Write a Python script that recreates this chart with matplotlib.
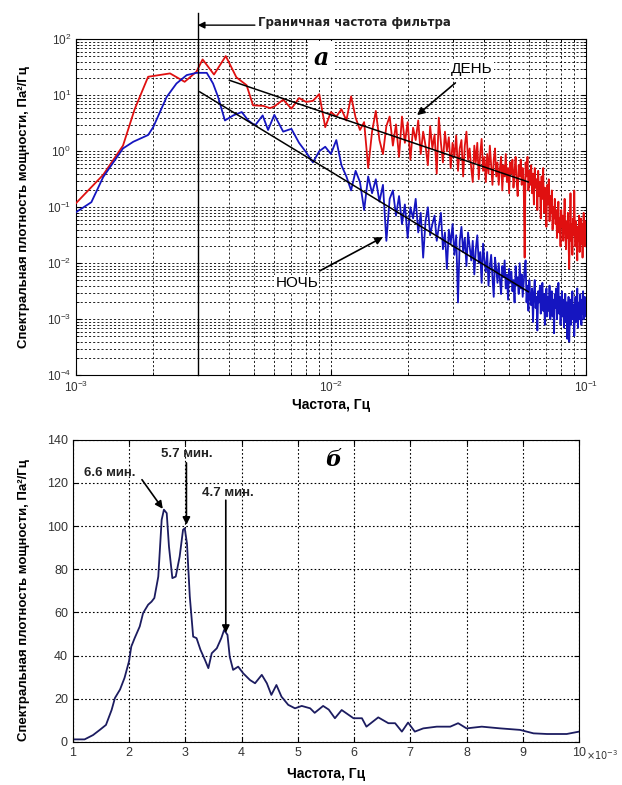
import matplotlib
matplotlib.use("Agg")
import matplotlib.pyplot as plt
import numpy as np

plt.rcParams["font.family"] = ["Liberation Sans", "DejaVu Sans"]

# ---- panel a: spectra (frequency in mHz, PSD as log10 of Pa^2/Hz) ----
F_LO_DAY = [1.0, 1.28, 1.53, 1.70, 1.92, 2.34, 2.67, 2.97, 3.14, 3.48, 3.87,
            4.26, 4.67, 4.95, 5.43, 5.77]
L_LO_DAY = [-0.93, -0.42, 0.10, 0.75, 1.33, 1.39, 1.24, 1.42, 1.64, 1.37, 1.70,
            1.32, 1.18, 0.82, 0.81, 0.77]
F_LO_NIGHT = [1.0, 1.15, 1.28, 1.53, 1.68, 1.92, 2.01, 2.27, 2.48, 2.72, 2.97,
              3.26, 3.45, 3.61, 3.84, 4.14, 4.47, 4.74, 5.04, 5.40, 5.67]
L_LO_NIGHT = [-1.09, -0.91, -0.46, 0.05, 0.17, 0.29, 0.43, 0.97, 1.21, 1.36, 1.40,
              1.40, 1.21, 0.97, 0.55, 0.64, 0.70, 0.55, 0.46, 0.64, 0.38]

# frequency bins 6.0 ... 100.0 mHz, step 0.5
F_HI = np.arange(6.0, 100.01, 0.5)
L_HI_DAY = [
    0.80, 0.92, 0.76, 0.95, 0.88, 0.90, 1.02, 0.43, 0.70, 0.62,
    0.75, 0.55, 0.98, 0.60, 0.38, 0.52, -0.30, 0.35, 0.72, 0.20,
    -0.05, 0.45, 0.62, 0.10, 0.48, -0.10, 0.62, 0.15, 0.52, -0.15,
    0.42, 0.20, 0.55, -0.05, 0.35, 0.10, -0.25, 0.45, 0.05, 0.30,
    -0.40, 0.60, 0.15, -0.20, 0.35, 0.00, 0.25, -0.30, 0.15, -0.10,
    0.28, -0.35, 0.05, 0.20, -0.45, 0.10, 0.35, -0.15, 0.05, -0.30,
    -0.55, 0.10, -0.20, 0.15, -0.50, -0.05, 0.22, -0.35, -0.10, -0.55,
    -0.05, -0.40, 0.10, -0.25, -0.60, -0.15, 0.05, -0.45, -0.20, -0.60,
    -0.30, -0.10, -0.70, -0.25, -0.45, -0.05, -0.55, -0.30, -0.75, -0.20,
    -0.40, -0.15, -0.65, -0.35, -0.10, -0.55, -0.80, -0.25, -0.45, -0.15,
    -0.60, -0.30, -0.55, -1.90, -0.20, -0.45, -0.10, -0.70, -0.35, -0.60,
    -0.25, -0.75, -0.40, -0.95, -0.30, -0.65, -0.50, -1.05, -0.35, -0.80,
    -0.55, -1.20, -0.45, -0.85, -0.30, -1.10, -0.65, -0.90, -1.35, -0.60,
    -0.95, -0.50, -1.25, -0.80, -1.10, -0.70, -1.40, -1.00, -1.20, -0.85,
    -1.30, -1.05, -1.55, -1.15, -0.90, -1.45, -1.20, -1.70, -1.05, -1.35,
    -1.15, -1.60, -1.30, -0.85, -1.45, -1.75, -1.25, -1.55, -1.10, -1.65,
    -2.10, -1.40, -0.75, -1.60, -1.30, -1.85, -1.20, -1.50, -0.70, -1.40,
    -1.70, -1.25, -1.55, -1.95, -1.35, -1.60, -1.15, -1.80, -1.45, -1.20,
    -1.65, -1.30, -1.90, -1.45, -1.10, -1.55, -1.35, -1.70, -1.25,
]
L_HI_NIGHT = [
    0.65, 0.35, 0.40, 0.15, -0.02, -0.20, 0.00, 0.08, -0.05, 0.20,
    -0.25, -0.45, -0.70, -0.35, -0.55, -1.05, -0.45, -0.75, -0.50, -0.90,
    -0.60, -1.60, -0.85, -0.70, -1.15, -0.80, -1.30, -0.95, -1.55, -1.00,
    -1.20, -0.85, -1.45, -1.10, -1.90, -1.25, -1.00, -1.50, -1.30, -1.15,
    -1.60, -1.35, -1.10, -1.75, -1.45, -2.10, -1.40, -1.65, -1.30, -1.85,
    -1.50, -2.70, -1.60, -1.35, -1.80, -1.55, -2.05, -1.45, -1.70, -1.95,
    -1.60, -2.20, -1.75, -1.50, -2.00, -1.80, -2.35, -1.65, -1.95, -2.15,
    -1.80, -2.40, -2.05, -1.85, -2.25, -2.60, -1.90, -2.10, -2.35, -2.00,
    -2.30, -2.55, -2.05, -2.25, -1.95, -2.45, -2.20, -2.65, -2.10, -2.35,
    -2.15, -2.50, -2.30, -2.70, -2.05, -2.40, -2.25, -2.55, -2.00, -2.45,
    -2.20, -2.60, -2.35, -2.10, -1.95, -2.70, -2.40, -2.85, -2.30, -2.60,
    -2.75, -2.45, -3.05, -2.55, -2.30, -2.80, -2.60, -3.20, -2.50, -2.70,
    -2.40, -2.90, -2.65, -2.35, -2.85, -2.55, -3.10, -2.70, -2.45, -2.95,
    -2.60, -2.85, -2.40, -3.00, -2.70, -2.50, -2.95, -2.65, -3.25, -2.55,
    -2.80, -2.45, -3.00, -2.70, -2.35, -2.90, -2.60, -3.10, -2.75, -2.50,
    -2.95, -2.65, -3.15, -2.80, -2.55, -3.05, -2.70, -3.35, -2.85, -2.60,
    -3.40, -2.90, -2.65, -3.10, -2.80, -2.50, -3.00, -2.75, -3.30, -2.85,
    -2.60, -3.05, -2.80, -2.45, -3.15, -2.90, -2.70, -3.00, -2.55, -2.85,
    -3.10, -2.65, -2.90, -2.50, -3.00, -2.75, -2.60, -2.95, -2.70,
]

# fitted power-law lines (end points)
FIT_DAY_F = [4.0, 59.4]
FIT_DAY_P = [18.5, 0.283]
FIT_NIGHT_F = [3.06, 59.4]
FIT_NIGHT_P = [11.5, 0.0031]
CUTOFF_F = 3.0

# ---- panel b: smoothed spectrum (frequency in units of 1e-3 Hz) ----
F_B = [1.0, 1.02, 1.21, 1.36, 1.48, 1.59, 1.69, 1.75, 1.84, 1.92, 2.0, 2.04,
       2.10, 2.19, 2.25, 2.34, 2.40, 2.45, 2.52, 2.58, 2.62, 2.67, 2.71, 2.77,
       2.83, 2.90, 2.96, 2.99, 3.03, 3.08, 3.14, 3.20, 3.27, 3.35, 3.41, 3.47,
       3.56, 3.64, 3.69, 3.75, 3.79, 3.85, 3.94, 4.03, 4.15, 4.24, 4.36, 4.45,
       4.53, 4.62, 4.71, 4.83, 4.95, 5.07, 5.22, 5.30, 5.45, 5.55, 5.66, 5.78,
       5.99, 6.14, 6.22, 6.43, 6.61, 6.73, 6.85, 6.96, 7.08, 7.23, 7.47, 7.71,
       7.85, 8.0, 8.27, 8.6, 8.95, 9.19, 9.43, 9.78, 10.0]
P_B = [1.0, 1.2, 1.2, 3.2, 5.6, 7.9, 14.8, 20.4, 24.3, 29.7, 37.4, 44.2,
       48.1, 53.5, 59.7, 63.6, 65.0, 66.7, 76.6, 102.9, 107.6, 106.0, 90.5, 75.9,
       76.6, 85.9, 98.3, 99.0, 92.0, 67.4, 48.8, 48.1, 42.7, 38.0, 34.2, 41.1,
       43.4, 48.1, 51.9, 49.6, 39.5, 33.4, 34.9, 31.8, 28.7, 27.2, 31.1, 27.2,
       21.8, 26.4, 21.0, 17.2, 15.6, 16.7, 15.6, 13.5, 16.7, 15.0, 11.0, 14.8,
       11.0, 11.0, 7.1, 11.4, 8.7, 8.7, 4.8, 9.0, 4.8, 6.3, 7.1, 7.1,
       8.7, 6.3, 7.1, 6.3, 5.6, 4.0, 3.7, 3.7, 4.8]

RED = "#e01010"
BLUE = "#1515c0"
NAVY = "#1c1c60"
LABEL = "Спектральная плотность мощности, Па²/Гц"

fig = plt.figure(figsize=(6.22, 7.85), dpi=100)

# ================= panel a =================
ax = fig.add_axes([0.122, 0.522, 0.820, 0.428])
f_day = np.concatenate([F_LO_DAY, F_HI]) * 1e-3
p_day = 10.0 ** np.concatenate([L_LO_DAY, L_HI_DAY])
f_night = np.concatenate([F_LO_NIGHT, F_HI]) * 1e-3
p_night = 10.0 ** np.concatenate([L_LO_NIGHT, L_HI_NIGHT])

ax.loglog(f_day, p_day, color=RED, lw=1.3, zorder=3)
ax.loglog(f_night, p_night, color=BLUE, lw=1.3, zorder=3)
ax.loglog(np.array(FIT_DAY_F) * 1e-3, FIT_DAY_P, color="black", lw=1.1, zorder=4)
ax.loglog(np.array(FIT_NIGHT_F) * 1e-3, FIT_NIGHT_P, color="black", lw=1.1, zorder=4)

ax.set_xlim(1e-3, 1e-1)
ax.set_ylim(1e-4, 1e2)
ax.grid(True, which="both", color="black", linestyle=(0, (2.5, 2.5)), lw=0.6)
ax.tick_params(which="both", direction="in", top=True, right=True,
               labelsize=8.5, labelcolor="#333333")
ax.set_xlabel("Частота, Гц", fontsize=10, fontweight="bold", labelpad=2)

# cut-off frequency marker
ax.axvline(CUTOFF_F * 1e-3, ymin=0, ymax=1.077, color="black", lw=1.0,
           clip_on=False, zorder=5)
ax.annotate("", xy=(0.239, 1.042), xytext=(0.351, 1.042), xycoords="axes fraction",
            arrowprops=dict(arrowstyle="-|>", color="black", lw=1.0,
                            mutation_scale=10, shrinkA=0, shrinkB=0))
ax.text(0.357, 1.050, "Граничная частота фильтра", transform=ax.transAxes,
        ha="left", va="center", fontsize=8.5, fontweight="bold",
        family=["DejaVu Sans"], color="#222222")

ax.text(0.482, 0.943, "a", transform=ax.transAxes, ha="center", va="center",
        fontsize=17, fontweight="bold", fontstyle="italic",
        family=["DejaVu Serif"],
        bbox=dict(facecolor="white", edgecolor="none", pad=4), zorder=6)

ax.annotate("ДЕНЬ", xy=(0.669, 0.774), xytext=(0.776, 0.911),
            xycoords="axes fraction", textcoords="axes fraction",
            ha="center", va="center", fontsize=11, zorder=6,
            bbox=dict(facecolor="white", edgecolor="none", pad=1),
            arrowprops=dict(arrowstyle="-|>", color="black", lw=1.2,
                            mutation_scale=11, shrinkA=6, shrinkB=0))
ax.annotate("НОЧЬ", xy=(0.602, 0.411), xytext=(0.433, 0.274),
            xycoords="axes fraction", textcoords="axes fraction",
            ha="center", va="center", fontsize=11, zorder=6,
            bbox=dict(facecolor="white", edgecolor="none", pad=1),
            arrowprops=dict(arrowstyle="-|>", color="black", lw=1.2,
                            mutation_scale=11, shrinkA=6, shrinkB=0))

fig.text(0.038, 0.736, LABEL, rotation=90, ha="center", va="center",
         fontsize=9.5, fontweight="bold")

# ================= panel b =================
bx = fig.add_axes([0.117, 0.0548, 0.814, 0.385])
bx.plot(F_B, P_B, color=NAVY, lw=1.3)
bx.set_xlim(1, 10)
bx.set_ylim(0, 140)
bx.set_xticks(range(1, 11))
bx.set_yticks(range(0, 141, 20))
bx.grid(True, color="black", linestyle=(0, (1.5, 2)), lw=0.8)
bx.tick_params(direction="in", top=True, right=True, labelsize=9,
               labelcolor="#333333")
bx.set_xlabel("Частота, Гц", fontsize=10, fontweight="bold", labelpad=6)
bx.text(1.014, -0.045, r"$\times10^{-3}$", transform=bx.transAxes,
        ha="left", va="center", fontsize=7, color="#333333")

bx.text(0.514, 0.934, "б", transform=bx.transAxes, ha="center", va="center",
        fontsize=16, fontweight="bold", fontstyle="italic",
        family=["DejaVu Serif"])

arrow_kw = dict(arrowstyle="-|>", color="black", lw=1.2, mutation_scale=11,
                shrinkA=0, shrinkB=0)
bx.annotate("", xy=(2.60, 108), xytext=(2.23, 121.5), arrowprops=arrow_kw)
bx.annotate("", xy=(3.02, 100.6), xytext=(3.02, 129.3), arrowprops=arrow_kw)
bx.annotate("", xy=(3.72, 50.5), xytext=(3.72, 112), arrowprops=arrow_kw)
bx.text(1.66, 124.7, "6.6 мин.", ha="center", va="center", fontsize=9.5,
        fontweight="bold", color="#222222")
bx.text(3.03, 133.5, "5.7 мин.", ha="center", va="center", fontsize=9.5,
        fontweight="bold", color="#222222")
bx.text(3.76, 115.4, "4.7 мин.", ha="center", va="center", fontsize=9.5,
        fontweight="bold", color="#222222")

fig.text(0.038, 0.236, LABEL, rotation=90, ha="center", va="center",
         fontsize=9.5, fontweight="bold")

fig.savefig("out.png", dpi=100)
